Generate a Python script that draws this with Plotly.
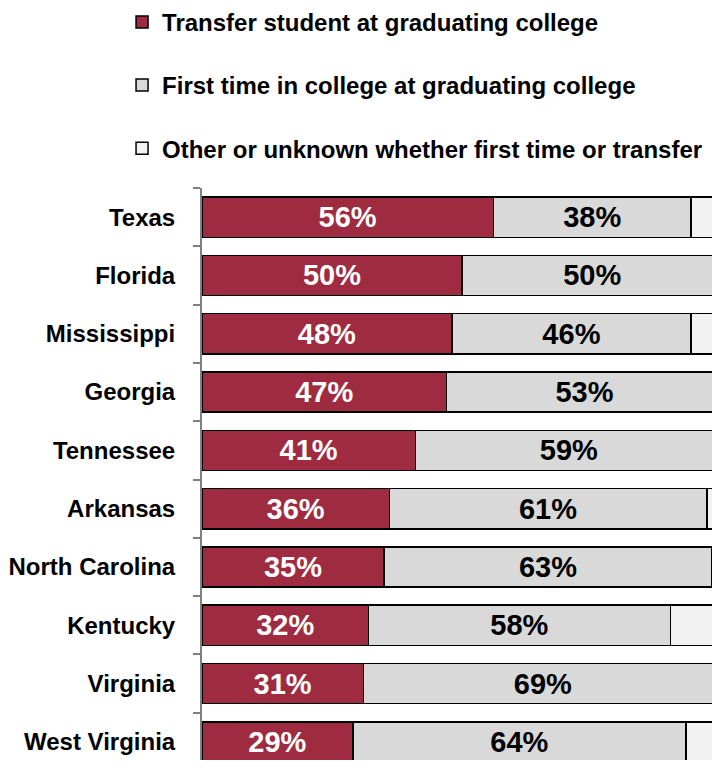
import plotly.graph_objects as go

states = ['Texas', 'Florida', 'Mississippi', 'Georgia', 'Tennessee',
          'Arkansas', 'North Carolina', 'Kentucky', 'Virginia', 'West Virginia']
transfer = [56, 50, 48, 47, 41, 36, 35, 32, 31, 29]
first_time = [38, 50, 46, 53, 59, 61, 63, 58, 69, 64]
other = [6, 0, 6, 0, 0, 3, 2, 10, 0, 7]

series_names = ['Transfer student at graduating college',
                'First time in college at graduating college',
                'Other or unknown whether first time or transfer']

font = 'Liberation Sans, Arial'

fig = go.Figure()
fig.add_bar(y=states, x=transfer, orientation='h', name=series_names[0],
            marker=dict(color='#9E2B40', line=dict(color='black', width=1.5)),
            text=[f'{v}%' for v in transfer], textposition='inside',
            insidetextanchor='middle', textangle=0,
            textfont=dict(family=font, size=29, color='white', weight='bold'),
            legendgroup='a')
fig.add_bar(y=states, x=first_time, orientation='h', name=series_names[1],
            marker=dict(color='#D9D9D9', line=dict(color='black', width=1.5)),
            text=[f'{v}%' for v in first_time], textposition='inside',
            insidetextanchor='middle', textangle=0,
            textfont=dict(family=font, size=29, color='black', weight='bold'),
            legendgroup='b')
fig.add_bar(y=states, x=other, orientation='h', name=series_names[2],
            marker=dict(color='#F2F2F2', line=dict(color='black', width=1.5)),
            legendgroup='c')

# the page body adds an 8px margin, so the figure is smaller than the window
fig.update_layout(
    width=704, height=752,
    barmode='stack', bargap=0.31,
    plot_bgcolor='white', paper_bgcolor='white',
    margin=dict(l=194, r=0, t=180, b=0, autoexpand=False),
    font=dict(family=font, color='black'),
    legend=dict(orientation='v', xref='container', yref='paper',
                x=0.162, xanchor='left', y=1.329, yanchor='top',
                tracegroupgap=29, traceorder='grouped',
                font=dict(family=font, size=24, color='black', weight='bold')),
    xaxis=dict(visible=False, range=[0, 98.0], automargin=False),
    yaxis=dict(range=[9.31, -0.5], showline=True, linecolor='#808080', linewidth=2,
               ticks='outside', tickson='boundaries', ticklen=7, tickcolor='#808080',
               tickwidth=2, ticklabelstandoff=20, showgrid=False, automargin=False,
               tickfont=dict(family=font, size=24, color='black', weight='bold')),
)

fig.write_html('out.html')
